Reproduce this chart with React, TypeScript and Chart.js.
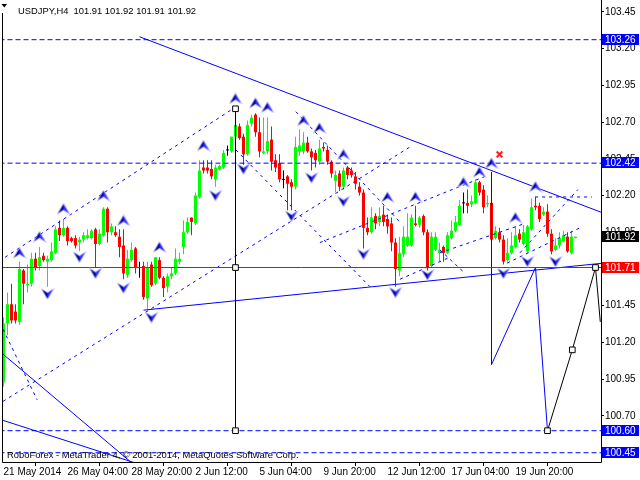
import React, { useEffect, useRef } from 'react';
import { Chart, registerables } from 'chart.js';

Chart.register(...registerables);

// ---------------- data ----------------
const SYMBOL = 'USDJPY,H4';
const COPYRIGHT = 'RoboForex - MetaTrader 4, © 2001-2014, MetaQuotes Software Corp.';

const X_TICK_INDEX = [0, 16, 32, 48, 64, 80, 96, 112, 128];
const X_TICK_LABELS = ['21 May 2014', '26 May 04:00', '28 May 20:00', '2 Jun 12:00', '5 Jun 04:00', '9 Jun 20:00', '12 Jun 12:00', '17 Jun 04:00', '19 Jun 20:00'];
const Y_TICKS = [100.70, 100.95, 101.20, 101.45, 101.70, 101.95, 102.20, 102.45, 102.70, 102.95, 103.20, 103.45];

const OPEN = [
  100.93, 101.33, 101.46, 101.41, 101.34, 101.69, 101.59, 101.60, 101.77, 101.72,
  101.79, 101.75, 101.76, 101.81, 101.98, 101.93, 101.98, 101.91, 101.91, 101.88,
  101.90, 101.91, 101.91, 101.97, 101.87, 101.93, 102.11, 101.95, 101.95, 101.92,
  101.86, 101.66, 101.76, 101.84, 101.71, 101.72, 101.50, 101.73, 101.60, 101.76,
  101.64, 101.58, 101.65, 101.67, 101.75, 101.85, 101.95, 102.05, 102.01, 102.19,
  102.39, 102.39, 102.38, 102.31, 102.38, 102.39, 102.51, 102.50, 102.60, 102.67,
  102.60, 102.48, 102.69, 102.75, 102.63, 102.49, 102.50, 102.58, 102.44, 102.42,
  102.31, 102.33, 102.29, 102.26, 102.50, 102.50, 102.56, 102.50, 102.49, 102.43,
  102.53, 102.51, 102.43, 102.30, 102.35, 102.26, 102.39, 102.37, 102.33, 102.26,
  102.22, 101.98, 101.95, 102.06, 102.02, 102.07, 102.04, 102.01, 101.88, 101.69,
  101.80, 101.86, 101.86, 102.01, 102.00, 102.06, 101.95, 101.72, 101.83, 101.81,
  101.85, 101.81, 101.91, 101.96, 102.00, 102.15, 102.15, 102.14, 102.15, 102.29,
  102.24, 102.14, 102.15, 101.91, 101.95, 101.90, 101.76, 101.81, 101.85, 101.94,
  101.87, 101.82, 101.97, 102.13, 102.13, 102.07, 102.09, 101.94, 101.83, 101.86,
  101.89, 101.92, 101.81, 101.91,
];
const HIGH = [
  101.37, 101.54, 101.60, 101.46, 101.75, 101.70, 101.73, 101.81, 101.81, 101.85,
  101.81, 101.79, 101.88, 101.99, 102.03, 102.04, 101.99, 101.92, 101.93, 101.92,
  101.95, 101.97, 101.97, 101.98, 101.97, 102.12, 102.12, 102.01, 101.99, 101.97,
  101.97, 101.83, 101.88, 101.85, 101.75, 101.75, 101.75, 101.75, 101.78, 101.78,
  101.65, 101.67, 101.71, 101.84, 101.81, 102.03, 102.05, 102.05, 102.22, 102.44,
  102.44, 102.44, 102.44, 102.41, 102.41, 102.51, 102.54, 102.60, 102.79, 102.69,
  102.62, 102.71, 102.75, 102.76, 102.73, 102.73, 102.73, 102.67, 102.48, 102.48,
  102.37, 102.34, 102.31, 102.60, 102.65, 102.63, 102.60, 102.52, 102.51, 102.58,
  102.56, 102.54, 102.44, 102.37, 102.37, 102.39, 102.40, 102.39, 102.36, 102.29,
  102.24, 102.05, 102.12, 102.08, 102.12, 102.13, 102.07, 102.05, 101.91, 101.92,
  101.99, 102.08, 102.07, 102.13, 102.06, 102.07, 101.97, 101.95, 101.95, 101.88,
  101.86, 101.95, 102.03, 102.06, 102.17, 102.22, 102.24, 102.20, 102.31, 102.30,
  102.27, 102.20, 102.35, 101.99, 101.98, 101.93, 101.91, 101.95, 101.99, 101.97,
  102.00, 102.00, 102.18, 102.19, 102.15, 102.12, 102.14, 101.97, 101.91, 101.95,
  101.96, 101.95, 101.96, 101.92,
];
const LOW = [
  100.90, 101.25, 101.33, 101.33, 101.32, 101.46, 101.54, 101.58, 101.69, 101.69,
  101.75, 101.58, 101.75, 101.80, 101.89, 101.92, 101.86, 101.88, 101.84, 101.82,
  101.88, 101.90, 101.90, 101.71, 101.86, 101.92, 101.88, 101.93, 101.92, 101.78,
  101.63, 101.64, 101.75, 101.67, 101.64, 101.49, 101.43, 101.58, 101.59, 101.63,
  101.51, 101.54, 101.63, 101.66, 101.73, 101.80, 101.94, 101.93, 102.00, 102.18,
  102.35, 102.35, 102.31, 102.26, 102.37, 102.38, 102.47, 102.49, 102.59, 102.58,
  102.41, 102.47, 102.67, 102.60, 102.46, 102.48, 102.48, 102.37, 102.36, 102.29,
  102.25, 102.10, 102.10, 102.24, 102.47, 102.48, 102.49, 102.37, 102.39, 102.41,
  102.50, 102.41, 102.32, 102.22, 102.23, 102.24, 102.31, 102.32, 102.24, 102.20,
  101.84, 101.93, 101.94, 101.97, 101.99, 101.99, 101.94, 101.82, 101.58, 101.65,
  101.78, 101.85, 101.85, 101.99, 101.98, 101.93, 101.69, 101.71, 101.82, 101.75,
  101.75, 101.80, 101.90, 101.95, 101.99, 102.08, 102.08, 102.12, 102.14, 102.20,
  102.08, 102.12, 101.86, 101.90, 101.88, 101.73, 101.75, 101.80, 101.84, 101.88,
  101.86, 101.81, 101.96, 102.10, 102.02, 102.06, 101.92, 101.80, 101.82, 101.84,
  101.88, 101.81, 101.80, 101.91,
];
const CLOSE = [
  101.33, 101.46, 101.35, 101.35, 101.70, 101.60, 101.60, 101.77, 101.71, 101.78,
  101.76, 101.77, 101.82, 101.97, 101.93, 101.98, 101.89, 101.89, 101.86, 101.90,
  101.93, 101.93, 101.96, 101.87, 101.94, 102.11, 101.95, 101.99, 101.93, 101.85,
  101.67, 101.77, 101.83, 101.71, 101.71, 101.51, 101.71, 101.59, 101.78, 101.64,
  101.57, 101.65, 101.67, 101.77, 101.77, 101.95, 102.02, 102.02, 102.20, 102.37,
  102.37, 102.37, 102.33, 102.39, 102.40, 102.49, 102.51, 102.60, 102.68, 102.59,
  102.48, 102.68, 102.73, 102.63, 102.50, 102.50, 102.57, 102.43, 102.39, 102.31,
  102.31, 102.28, 102.26, 102.53, 102.54, 102.56, 102.50, 102.46, 102.44, 102.52,
  102.52, 102.43, 102.35, 102.34, 102.26, 102.37, 102.34, 102.34, 102.28, 102.22,
  101.98, 101.95, 102.05, 102.01, 102.06, 102.02, 101.99, 101.88, 101.70, 101.81,
  101.92, 101.92, 102.05, 102.00, 102.05, 101.95, 101.71, 101.92, 101.92, 101.83,
  101.81, 101.93, 101.96, 102.02, 102.13, 102.15, 102.13, 102.16, 102.29, 102.22,
  102.12, 102.15, 101.90, 101.96, 101.90, 101.75, 101.81, 101.86, 101.93, 101.90,
  101.95, 101.99, 102.12, 102.12, 102.04, 102.09, 101.94, 101.82, 101.86, 101.91,
  101.93, 101.82, 101.92, 101.92,
];

// horizontal levels
const DASHED_LEVELS = [103.26, 102.42, 100.60, 100.45];
const RED_LEVEL = 101.71;

// trend lines: [bar index, price]
const SOLID_TRENDS: [number, number][][] = [
  [[34, 103.28], [150, 102.08]],
  [[35, 101.42], [150, 101.74]],
  [[-0.1, 101.12], [33, 100.36]],
  [[-0.1, 100.67], [33, 100.38]],
];
const DASHED_TRENDS: [number, number][][] = [
  [[0.4, 101.78], [57.9, 102.80]],
  [[-0.1, 100.80], [101.6, 102.53]],
  [[58.1, 102.51], [91.6, 101.58]],
  [[73.1, 102.77], [99.1, 102.02]],
  [[79.1, 101.88], [120.4, 102.33]],
  [[109.1, 101.81], [130.4, 102.01]],
  [[125.9, 101.74], [144.1, 101.98]],
  [[129.1, 101.81], [143.6, 102.24]],
  [[132.9, 102.19], [147.1, 102.19]],
  [[-0.1, 101.29], [8.4, 100.81]],
  [[99.1, 101.63], [111.6, 101.78]],
  [[109.1, 101.83], [115.4, 101.67]],
];
const BLUE_PATH: [number, number][] = [[122, 102.36], [122, 101.05], [133, 101.71], [136, 100.60]];
const BLACK_PATH: [number, number][] = [[136, 100.60], [142.2, 101.15], [148, 101.71], [149.2, 101.34]];
const BLACK_VLINE: [number, number][] = [[58, 102.79], [58, 100.60]];
const SQUARES: [number, number][] = [[58, 102.79], [58, 101.71], [58, 100.60], [136, 100.60], [142.2, 101.15], [148, 101.71]];

const UP_ARROWS: [number, number][] = [
  [4, 101.81], [9, 101.92], [15, 102.11], [25, 102.20], [30, 102.03], [39, 101.85],
  [50, 102.54], [58, 102.86], [63, 102.83], [66, 102.80], [75, 102.71], [79, 102.66],
  [85, 102.48], [96, 102.19], [103, 102.19], [115, 102.29], [119, 102.36], [122, 102.42],
  [128, 102.05], [133, 102.26],
];
const DOWN_ARROWS: [number, number][] = [
  [11, 101.53], [19, 101.78], [23, 101.67], [30, 101.57], [37, 101.37], [53, 102.20],
  [60, 102.38], [72, 102.06], [77, 102.32], [85, 102.16], [90, 101.80], [98, 101.54],
  [106, 101.66], [125, 101.67], [131, 101.75], [138, 101.75],
];
const CROSS: [number, number][] = [[124, 102.48]];

const PRICE_MARKS: { value: number; bg: string }[] = [
  { value: 103.26, bg: '#0000ff' },
  { value: 102.42, bg: '#0000ff' },
  { value: 101.71, bg: '#ff0000' },
  { value: 100.60, bg: '#0000ff' },
  { value: 100.45, bg: '#0000ff' },
];

// view range
const X_MIN = -0.375;
const X_MAX = 149.375;
const Y_MIN = 100.387;
const Y_MAX = 103.53;

const FONT = '"Liberation Sans", Arial, sans-serif';

function candleColor(i: number) {
  if (CLOSE[i] > OPEN[i]) return '#00ff00';
  if (CLOSE[i] < OPEN[i]) return '#ff0000';
  return '#000000';
}

function makeArrow(up: boolean): HTMLCanvasElement {
  const c = document.createElement('canvas');
  c.width = 14;
  c.height = 12;
  const g = c.getContext('2d')!;
  if (!up) {
    g.translate(0, 12);
    g.scale(1, -1);
  }
  g.beginPath();
  g.moveTo(7, 0);
  g.lineTo(14, 12);
  g.lineTo(7, 8);
  g.lineTo(0, 12);
  g.closePath();
  g.fillStyle = '#b4b4ff';
  g.fill();
  g.beginPath();
  g.moveTo(7, 1.6);
  g.lineTo(7, 6.8);
  g.lineTo(1.7, 10.4);
  g.closePath();
  g.fillStyle = '#000090';
  g.fill();
  g.beginPath();
  g.moveTo(7, 1.6);
  g.lineTo(12.3, 10.4);
  g.lineTo(7, 6.8);
  g.closePath();
  g.fillStyle = '#2a2aff';
  g.fill();
  return c;
}

const toXY = (pts: [number, number][]) => pts.map(([x, y]) => ({ x, y }));

function lineDs(pts: [number, number][], color: string, dash: number[], order = 1) {
  return {
    type: 'line' as const,
    data: toXY(pts),
    borderColor: color,
    backgroundColor: color,
    borderWidth: 1,
    borderDash: dash,
    pointRadius: 0,
    fill: false,
    tension: 0,
    order,
  };
}

const overlay = {
  id: 'mtOverlay',
  afterDraw(chart: any) {
    const ctx: CanvasRenderingContext2D = chart.ctx;
    const area = chart.chartArea;
    const ys = chart.scales.y;
    ctx.save();
    // frame
    ctx.strokeStyle = '#000';
    ctx.lineWidth = 1;
    ctx.setLineDash([]);
    ctx.beginPath();
    ctx.moveTo(area.left + 0.5, 13);
    ctx.lineTo(area.left + 0.5, area.bottom + 0.5);
    ctx.lineTo(area.right + 0.5, area.bottom + 0.5);
    ctx.lineTo(area.right + 0.5, 0);
    ctx.stroke();

    // title
    const n = OPEN.length - 1;
    ctx.fillStyle = '#000';
    ctx.beginPath();
    ctx.moveTo(1.5, 4);
    ctx.lineTo(7, 4);
    ctx.lineTo(4.25, 7.5);
    ctx.closePath();
    ctx.fill();
    ctx.font = '9.4px ' + FONT;
    ctx.textBaseline = 'alphabetic';
    ctx.textAlign = 'left';
    const title = `${SYMBOL}  ${OPEN[n].toFixed(2)} ${HIGH[n].toFixed(2)} ${LOW[n].toFixed(2)} ${CLOSE[n].toFixed(2)}`;
    ctx.fillText(title, 18, 14);

    // copyright
    ctx.fillText(COPYRIGHT, 7, 458);

    // price labels
    ctx.font = '10px ' + FONT;
    ctx.textBaseline = 'middle';
    const marks = [...PRICE_MARKS, { value: CLOSE[n], bg: '#000000' }];
    for (const m of marks) {
      const py = Math.round(ys.getPixelForValue(m.value));
      ctx.fillStyle = m.bg;
      ctx.fillRect(602, py - 6, 37, 11);
      ctx.fillStyle = '#ffffff';
      ctx.fillText(m.value.toFixed(2), 605, py);
    }
    ctx.restore();
  },
};

export default function App() {
  const ref = useRef<HTMLCanvasElement>(null);

  useEffect(() => {
    const canvas = ref.current;
    if (!canvas) return;
    const upImg = makeArrow(true);
    const downImg = makeArrow(false);
    const colors = OPEN.map((_, i) => candleColor(i));

    const wickData = OPEN.map((_, i) => ({ x: i, y: [LOW[i], HIGH[i]] }));
    const bodyData = OPEN.map((o, i) => {
      let lo = Math.min(o, CLOSE[i]);
      let hi = Math.max(o, CLOSE[i]);
      if (hi - lo < 0.007) {
        const m = (hi + lo) / 2;
        lo = m - 0.0035;
        hi = m + 0.0035;
      }
      return { x: i, y: [lo, hi] };
    });

    const datasets: any[] = [
      {
        type: 'bar',
        data: wickData,
        backgroundColor: colors,
        borderWidth: 0,
        grouped: false,
        maxBarThickness: 1,
        barPercentage: 1,
        categoryPercentage: 1,
        inflateAmount: 0,
        order: 30,
      },
      {
        type: 'bar',
        data: bodyData,
        backgroundColor: colors,
        borderWidth: 0,
        grouped: false,
        maxBarThickness: 3,
        barPercentage: 1,
        categoryPercentage: 1,
        inflateAmount: 0,
        order: 20,
      },
    ];

    DASHED_LEVELS.forEach((lv) => datasets.push(lineDs([[-5, lv], [160, lv]], '#0000ff', [5, 3], 5)));
    DASHED_TRENDS.forEach((p) => datasets.push(lineDs(p, '#0000ff', [3, 4], 4)));
    SOLID_TRENDS.forEach((p) => datasets.push(lineDs(p, '#0000ff', [], 3)));
    datasets.push(lineDs(BLUE_PATH, '#0000ff', [], 3));
    datasets.push(lineDs(BLACK_VLINE, '#000000', [], 2));
    datasets.push(lineDs(BLACK_PATH, '#000000', [], 2));
    datasets.push(lineDs([[-5, RED_LEVEL], [160, RED_LEVEL]], 'rgb(255,0,0)', [], 1));
    datasets.push({
      type: 'line',
      data: toXY(SQUARES),
      showLine: false,
      pointStyle: 'rect',
      pointRadius: 4,
      pointBackgroundColor: '#ffffff',
      pointBorderColor: '#000000',
      pointBorderWidth: 1,
      order: 0,
    });
    datasets.push({
      type: 'line',
      data: toXY(UP_ARROWS),
      showLine: false,
      pointStyle: upImg,
      pointRadius: 6,
      order: 0,
    });
    datasets.push({
      type: 'line',
      data: toXY(DOWN_ARROWS),
      showLine: false,
      pointStyle: downImg,
      pointRadius: 6,
      order: 0,
    });
    datasets.push({
      type: 'line',
      data: toXY(CROSS),
      showLine: false,
      pointStyle: 'crossRot',
      pointRadius: 4,
      pointBorderColor: '#ff2020',
      pointBorderWidth: 2,
      order: 0,
    });

    Chart.defaults.font.family = FONT;
    Chart.defaults.font.size = 10;
    Chart.defaults.color = '#000';

    const chart = new Chart(canvas, {
      type: 'bar',
      data: { datasets },
      options: {
        animation: false,
        responsive: false,
        maintainAspectRatio: false,
        devicePixelRatio: 1,
        events: [],
        layout: { autoPadding: false, padding: { left: 2, top: 0, right: 0, bottom: 0 } },
        plugins: {
          legend: { display: false },
          tooltip: { enabled: false },
          title: { display: false },
        },
        scales: {
          x: {
            type: 'linear',
            min: X_MIN,
            max: X_MAX,
            offset: false,
            grid: { display: true, drawOnChartArea: false, drawTicks: true, tickLength: 4, color: '#000', lineWidth: 1 },
            border: { display: false },
            ticks: {
              autoSkip: false,
              maxRotation: 0,
              minRotation: 0,
              align: 'start',
              padding: 0,
              color: '#000',
              font: { size: 10, family: FONT },
              callback: (v: any) => {
                const k = X_TICK_INDEX.indexOf(Number(v));
                return k >= 0 ? X_TICK_LABELS[k] : '';
              },
            },
            afterBuildTicks: (s: any) => {
              s.ticks = X_TICK_INDEX.map((v) => ({ value: v }));
            },
            afterFit: (s: any) => {
              s.height = 18;
              s.paddingLeft = 0;
              s.paddingRight = 0;
            },
          },
          y: {
            type: 'linear',
            position: 'right',
            min: Y_MIN,
            max: Y_MAX,
            grid: { display: true, drawOnChartArea: false, drawTicks: true, tickLength: 3, color: '#000', lineWidth: 1 },
            border: { display: false },
            ticks: {
              autoSkip: false,
              padding: 1,
              color: '#000',
              font: { size: 10, family: FONT },
              callback: (v: any) => Number(v).toFixed(2),
            },
            afterBuildTicks: (s: any) => {
              s.ticks = Y_TICKS.map((v) => ({ value: v }));
            },
            afterFit: (s: any) => {
              s.width = 39;
              s.paddingTop = 0;
              s.paddingBottom = 0;
            },
          },
        },
      } as any,
      plugins: [overlay],
    });
    return () => chart.destroy();
  }, []);

  return (
    <div style={{ position: 'fixed', left: 0, top: 0, width: 640, height: 480, background: '#ffffff' }}>
      <canvas ref={ref} width={640} height={480} style={{ display: 'block', width: 640, height: 480 }} />
    </div>
  );
}
